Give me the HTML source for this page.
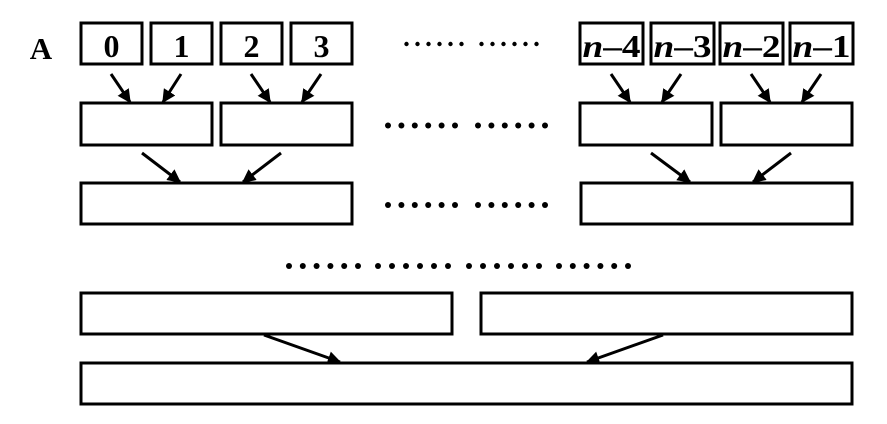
<!DOCTYPE html>
<html><head><meta charset="utf-8"><style>html,body{margin:0;padding:0;background:#fff}svg{display:block}</style></head>
<body>
<svg width="887" height="424" viewBox="0 0 887 424" xmlns="http://www.w3.org/2000/svg">
<defs>
<marker id="ah" viewBox="0 0 10 10" refX="9" refY="5" markerWidth="4.5" markerHeight="4.5" orient="auto">
<path d="M0,0 L10,5 L0,10 z" fill="#000"/></marker>
</defs>
<g fill="none" stroke="#000" stroke-width="3">
<rect x="81" y="23" width="61" height="41"/>
<rect x="151" y="23" width="61" height="41"/>
<rect x="221" y="23" width="61" height="41"/>
<rect x="291" y="23" width="61" height="41"/>
<rect x="580" y="23" width="63" height="41"/>
<rect x="651" y="23" width="63" height="41"/>
<rect x="720" y="23" width="63" height="41"/>
<rect x="790" y="23" width="63" height="41"/>
<rect x="81" y="103" width="131" height="42"/>
<rect x="221" y="103" width="131" height="42"/>
<rect x="580" y="103" width="132" height="42"/>
<rect x="721" y="103" width="131" height="42"/>
<rect x="81" y="183" width="271" height="41"/>
<rect x="581" y="183" width="271" height="41"/>
<rect x="81" y="293" width="371" height="41"/>
<rect x="481" y="293" width="371" height="41"/>
<rect x="81" y="363" width="771" height="41"/>
</g>
<g stroke="#000" stroke-width="3" marker-end="url(#ah)">
<line x1="111" y1="74" x2="130" y2="102"/>
<line x1="181" y1="74" x2="163" y2="102"/>
<line x1="251" y1="74" x2="270" y2="102"/>
<line x1="321" y1="74" x2="302" y2="102"/>
<line x1="611" y1="74" x2="630" y2="102"/>
<line x1="681" y1="74" x2="662" y2="102"/>
<line x1="751" y1="74" x2="770" y2="102"/>
<line x1="821" y1="74" x2="802" y2="102"/>
<line x1="142" y1="153" x2="180" y2="182"/>
<line x1="281" y1="153" x2="243" y2="182"/>
<line x1="651" y1="153" x2="690" y2="182"/>
<line x1="791" y1="153" x2="753" y2="182"/>
<line x1="264" y1="335" x2="340" y2="362"/>
<line x1="663" y1="335" x2="587" y2="362"/>
</g>
<g font-family="Liberation Serif, serif" font-weight="bold" text-anchor="middle">
<text x="41" y="59" font-size="31">A</text>
<g font-size="32">
<text x="111.5" y="57">0</text>
<text x="181.5" y="57">1</text>
<text x="251.5" y="57">2</text>
<text x="321.5" y="57">3</text>
</g>
<g font-size="32" textLength="58">
<text x="611.5" y="57" textLength="58" lengthAdjust="spacingAndGlyphs"><tspan font-style="italic">n</tspan>–4</text>
<text x="682.5" y="57" textLength="58" lengthAdjust="spacingAndGlyphs"><tspan font-style="italic">n</tspan>–3</text>
<text x="751.5" y="57" textLength="58" lengthAdjust="spacingAndGlyphs"><tspan font-style="italic">n</tspan>–2</text>
<text x="821.5" y="57" textLength="58" lengthAdjust="spacingAndGlyphs"><tspan font-style="italic">n</tspan>–1</text>
</g>
</g>
<g fill="#000">
<g>
<circle cx="406.5" cy="44" r="2.2"/><circle cx="417.5" cy="44" r="2.2"/><circle cx="428.5" cy="44" r="2.2"/><circle cx="439.5" cy="44" r="2.2"/><circle cx="450.5" cy="44" r="2.2"/><circle cx="461.5" cy="44" r="2.2"/>
<circle cx="481.5" cy="44" r="2.2"/><circle cx="492.5" cy="44" r="2.2"/><circle cx="503.5" cy="44" r="2.2"/><circle cx="514.5" cy="44" r="2.2"/><circle cx="525.5" cy="44" r="2.2"/><circle cx="536.5" cy="44" r="2.2"/>
</g>
<g id="r2">
<circle cx="388" cy="125.5" r="3"/><circle cx="401.4" cy="125.5" r="3"/><circle cx="414.8" cy="125.5" r="3"/><circle cx="428.2" cy="125.5" r="3"/><circle cx="441.6" cy="125.5" r="3"/><circle cx="455" cy="125.5" r="3"/>
<circle cx="478" cy="125.5" r="3"/><circle cx="491.4" cy="125.5" r="3"/><circle cx="504.8" cy="125.5" r="3"/><circle cx="518.2" cy="125.5" r="3"/><circle cx="531.6" cy="125.5" r="3"/><circle cx="545" cy="125.5" r="3"/>
</g>
<use href="#r2" y="79.5"/>
<g>
<circle cx="289" cy="266" r="3"/><circle cx="302.8" cy="266" r="3"/><circle cx="316.6" cy="266" r="3"/><circle cx="330.4" cy="266" r="3"/><circle cx="344.2" cy="266" r="3"/><circle cx="358" cy="266" r="3"/>
<circle cx="378" cy="266" r="3"/><circle cx="392" cy="266" r="3"/><circle cx="406" cy="266" r="3"/><circle cx="420" cy="266" r="3"/><circle cx="434" cy="266" r="3"/><circle cx="448" cy="266" r="3"/>
<circle cx="469" cy="266" r="3"/><circle cx="483" cy="266" r="3"/><circle cx="497" cy="266" r="3"/><circle cx="511" cy="266" r="3"/><circle cx="525" cy="266" r="3"/><circle cx="539" cy="266" r="3"/>
<circle cx="559" cy="266" r="3"/><circle cx="572.8" cy="266" r="3"/><circle cx="586.6" cy="266" r="3"/><circle cx="600.4" cy="266" r="3"/><circle cx="614.2" cy="266" r="3"/><circle cx="628" cy="266" r="3"/>
</g>
</g>
</svg>
</body></html>
